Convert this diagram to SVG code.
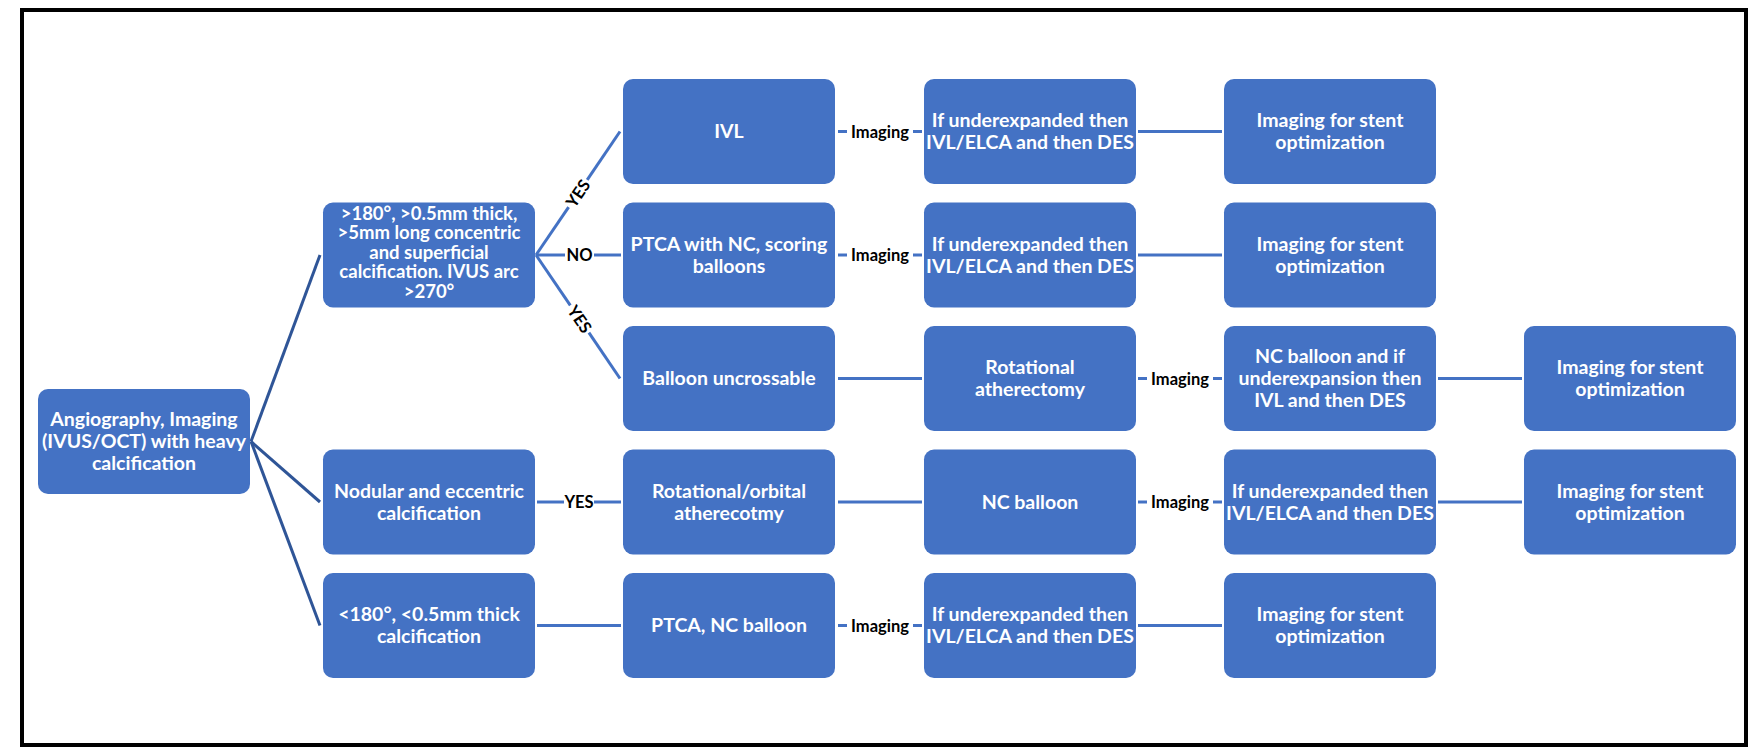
<svg xmlns="http://www.w3.org/2000/svg" width="1759" height="747" viewBox="0 0 1759 747">
<style>
.box{fill:#4472C4}
.nt{font-family:Lato,"Liberation Sans",sans-serif;font-weight:700;font-size:19.5px;fill:#fff;text-anchor:middle}
.nts{font-size:18.5px}
.lbl{font-family:Lato,"Liberation Sans",sans-serif;font-weight:700;font-size:16.5px;fill:#000;text-anchor:middle}
.c{stroke:#4472C4;stroke-width:3;fill:none}
.cd{stroke:#2F5597;stroke-width:3;fill:none}
</style>
<rect x="0" y="0" width="1759" height="747" fill="#fff"/>
<rect x="22" y="10" width="1724" height="735" fill="none" stroke="#000" stroke-width="4"/>

<g id="connectors">
  <line class="cd" x1="251" y1="441.5" x2="320" y2="255"/>
  <line class="cd" x1="251" y1="441.5" x2="320" y2="502"/>
  <line class="cd" x1="251" y1="441.5" x2="320" y2="625.5"/>
  <line class="c" x1="536" y1="255" x2="568.6" y2="207.1"/>
  <line class="c" x1="587.2" y1="179.8" x2="620" y2="131.5"/>
  <text class="lbl" transform="translate(577.9,193.4) rotate(-55.8)" y="6">YES</text>
  <line class="c" x1="536" y1="255" x2="565" y2="255"/>
  <line class="c" x1="594" y1="255" x2="621" y2="255"/>
  <text class="lbl" x="579.5" y="261">NO</text>
  <line class="c" x1="536" y1="255" x2="570.3" y2="305.4"/>
  <line class="c" x1="588.9" y1="332.7" x2="620" y2="378.5"/>
  <text class="lbl" transform="translate(579.6,319.1) rotate(55.8)" y="6">YES</text>
  <line class="c" x1="838" y1="131.5" x2="847" y2="131.5"/>
  <line class="c" x1="913" y1="131.5" x2="922" y2="131.5"/>
  <text class="lbl" x="880" y="137.5">Imaging</text>
  <line class="c" x1="1138" y1="131.5" x2="1222" y2="131.5"/>
  <line class="c" x1="838" y1="255" x2="847" y2="255"/>
  <line class="c" x1="913" y1="255" x2="922" y2="255"/>
  <text class="lbl" x="880" y="261">Imaging</text>
  <line class="c" x1="1138" y1="255" x2="1222" y2="255"/>
  <line class="c" x1="838" y1="378.5" x2="922" y2="378.5"/>
  <line class="c" x1="1138" y1="378.5" x2="1147" y2="378.5"/>
  <line class="c" x1="1213" y1="378.5" x2="1222" y2="378.5"/>
  <text class="lbl" x="1180" y="384.5">Imaging</text>
  <line class="c" x1="1438" y1="378.5" x2="1522" y2="378.5"/>
  <line class="c" x1="537" y1="502" x2="564" y2="502"/>
  <line class="c" x1="594" y1="502" x2="621" y2="502"/>
  <text class="lbl" x="579" y="508">YES</text>
  <line class="c" x1="838" y1="502" x2="922" y2="502"/>
  <line class="c" x1="1138" y1="502" x2="1147" y2="502"/>
  <line class="c" x1="1213" y1="502" x2="1222" y2="502"/>
  <text class="lbl" x="1180" y="508">Imaging</text>
  <line class="c" x1="1438" y1="502" x2="1522" y2="502"/>
  <line class="c" x1="537" y1="625.5" x2="621" y2="625.5"/>
  <line class="c" x1="838" y1="625.5" x2="847" y2="625.5"/>
  <line class="c" x1="913" y1="625.5" x2="922" y2="625.5"/>
  <text class="lbl" x="880" y="631.5">Imaging</text>
  <line class="c" x1="1138" y1="625.5" x2="1222" y2="625.5"/>
</g>

<g id="root">
  <rect class="box" x="38" y="389" width="212" height="105" rx="10"/>
  <text class="nt"><tspan x="144" y="426">Angiography, Imaging</tspan><tspan x="144" y="448">(IVUS/OCT) with heavy</tspan><tspan x="144" y="470">calcification</tspan></text>
</g>
<g id="concentric">
  <rect class="box" x="323" y="202.5" width="212" height="105" rx="10"/>
  <text class="nt nts"><tspan x="429" y="220">&gt;180°, &gt;0.5mm thick,</tspan><tspan x="429" y="239.4">&gt;5mm long concentric</tspan><tspan x="429" y="258.8">and superficial</tspan><tspan x="429" y="278.2">calcification. IVUS arc</tspan><tspan x="429" y="297.6">&gt;270°</tspan></text>
</g>
<g id="nodular">
  <rect class="box" x="323" y="449.5" width="212" height="105" rx="10"/>
  <text class="nt"><tspan x="429" y="497.5">Nodular and eccentric</tspan><tspan x="429" y="519.5">calcification</tspan></text>
</g>
<g id="small">
  <rect class="box" x="323" y="573" width="212" height="105" rx="10"/>
  <text class="nt"><tspan x="429" y="621">&lt;180°, &lt;0.5mm thick</tspan><tspan x="429" y="643">calcification</tspan></text>
</g>

<g id="ivl">
  <rect class="box" x="623" y="79" width="212" height="105" rx="10"/>
  <text class="nt" x="729" y="138">IVL</text>
</g>
<g id="ptca-nc-scoring">
  <rect class="box" x="623" y="202.5" width="212" height="105" rx="10"/>
  <text class="nt"><tspan x="729" y="250.5">PTCA with NC, scoring</tspan><tspan x="729" y="272.5">balloons</tspan></text>
</g>
<g id="balloon-uncrossable">
  <rect class="box" x="623" y="326" width="212" height="105" rx="10"/>
  <text class="nt" x="729" y="385">Balloon uncrossable</text>
</g>
<g id="rot-orbital">
  <rect class="box" x="623" y="449.5" width="212" height="105" rx="10"/>
  <text class="nt"><tspan x="729" y="497.5">Rotational/orbital</tspan><tspan x="729" y="519.5">atherecotmy</tspan></text>
</g>
<g id="ptca-nc">
  <rect class="box" x="623" y="573" width="212" height="105" rx="10"/>
  <text class="nt" x="729" y="632">PTCA, NC balloon</text>
</g>

<g id="underexp-1">
  <rect class="box" x="924" y="79" width="212" height="105" rx="10"/>
  <text class="nt"><tspan x="1030" y="127">If underexpanded then</tspan><tspan x="1030" y="149">IVL/ELCA and then DES</tspan></text>
</g>
<g id="underexp-2">
  <rect class="box" x="924" y="202.5" width="212" height="105" rx="10"/>
  <text class="nt"><tspan x="1030" y="250.5">If underexpanded then</tspan><tspan x="1030" y="272.5">IVL/ELCA and then DES</tspan></text>
</g>
<g id="rot-ather">
  <rect class="box" x="924" y="326" width="212" height="105" rx="10"/>
  <text class="nt"><tspan x="1030" y="374">Rotational</tspan><tspan x="1030" y="396">atherectomy</tspan></text>
</g>
<g id="nc-balloon">
  <rect class="box" x="924" y="449.5" width="212" height="105" rx="10"/>
  <text class="nt" x="1030" y="508.5">NC balloon</text>
</g>
<g id="underexp-5">
  <rect class="box" x="924" y="573" width="212" height="105" rx="10"/>
  <text class="nt"><tspan x="1030" y="621">If underexpanded then</tspan><tspan x="1030" y="643">IVL/ELCA and then DES</tspan></text>
</g>

<g id="stent-opt-1">
  <rect class="box" x="1224" y="79" width="212" height="105" rx="10"/>
  <text class="nt"><tspan x="1330" y="127">Imaging for stent</tspan><tspan x="1330" y="149">optimization</tspan></text>
</g>
<g id="stent-opt-2">
  <rect class="box" x="1224" y="202.5" width="212" height="105" rx="10"/>
  <text class="nt"><tspan x="1330" y="250.5">Imaging for stent</tspan><tspan x="1330" y="272.5">optimization</tspan></text>
</g>
<g id="nc-underexp">
  <rect class="box" x="1224" y="326" width="212" height="105" rx="10"/>
  <text class="nt"><tspan x="1330" y="363">NC balloon and if</tspan><tspan x="1330" y="385">underexpansion then</tspan><tspan x="1330" y="407">IVL and then DES</tspan></text>
</g>
<g id="underexp-4">
  <rect class="box" x="1224" y="449.5" width="212" height="105" rx="10"/>
  <text class="nt"><tspan x="1330" y="497.5">If underexpanded then</tspan><tspan x="1330" y="519.5">IVL/ELCA and then DES</tspan></text>
</g>
<g id="stent-opt-5">
  <rect class="box" x="1224" y="573" width="212" height="105" rx="10"/>
  <text class="nt"><tspan x="1330" y="621">Imaging for stent</tspan><tspan x="1330" y="643">optimization</tspan></text>
</g>

<g id="stent-opt-3">
  <rect class="box" x="1524" y="326" width="212" height="105" rx="10"/>
  <text class="nt"><tspan x="1630" y="374">Imaging for stent</tspan><tspan x="1630" y="396">optimization</tspan></text>
</g>
<g id="stent-opt-4">
  <rect class="box" x="1524" y="449.5" width="212" height="105" rx="10"/>
  <text class="nt"><tspan x="1630" y="497.5">Imaging for stent</tspan><tspan x="1630" y="519.5">optimization</tspan></text>
</g>
</svg>
